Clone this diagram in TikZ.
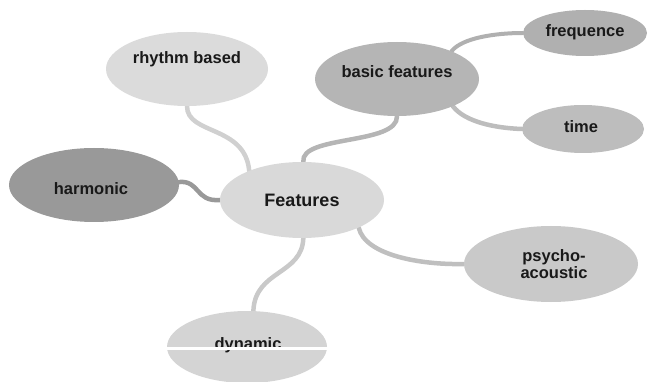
\documentclass[tikz,border=0pt]{standalone}
\usepackage{fontspec}
\setmainfont{Liberation Sans}
\usetikzlibrary{shapes.geometric,backgrounds}
\definecolor{cFeat}{gray}{0.85}
\definecolor{cRhy}{gray}{0.86}
\definecolor{cHar}{gray}{0.60}
\definecolor{cBas}{gray}{0.71}
\definecolor{cFre}{gray}{0.69}
\definecolor{cTim}{gray}{0.74}
\definecolor{cPsy}{gray}{0.79}
\definecolor{cDyn}{gray}{0.83}
\tikzset{
  blob/.style={ellipse, inner sep=0pt},
  lbl/.style={font=\bfseries\fontsize{16.5}{17}\selectfont, align=center, inner sep=0pt, text=black!90},
  link/.style={line width=4.5pt, line cap=round}
}
\begin{document}
\begin{tikzpicture}[x=1pt,y=-1pt]
\useasboundingbox (0,0) rectangle (648,382);
% ellipses
\node[blob, fill=cFeat, minimum width=164pt, minimum height=76pt] (feat) at (302,200) {};
\node[blob, fill=cRhy,  minimum width=162pt, minimum height=74pt] (rb)   at (187,69) {};
\node[blob, fill=cHar,  minimum width=170pt, minimum height=74pt] (har)  at (94,185) {};
\node[blob, fill=cBas,  minimum width=164pt, minimum height=74pt] (bas)  at (397,79) {};
\node[blob, fill=cFre,  minimum width=124pt, minimum height=46pt] (fre)  at (585,33) {};
\node[blob, fill=cTim,  minimum width=122pt, minimum height=48pt] (tim)  at (583,129) {};
\node[blob, fill=cPsy,  minimum width=174pt, minimum height=76pt] (psy)  at (551,264) {};
\node[blob, fill=cDyn,  minimum width=160pt, minimum height=72pt] (dyn)  at (247,347) {};
% labels
\node[lbl, font=\bfseries\fontsize{18}{18}\selectfont] (featT) at (302,200) {Features};
\node[lbl] (rbT)  at (187,59) {rhythm based};
\node[lbl] (harT) at (91,189) {harmonic};
\node[lbl] (basT) at (397,72) {basic features};
\node[lbl] (freT) at (585,32) {frequence};
\node[lbl] (timT) at (581,127) {time};
\node[lbl] (psyT) at (554,264) {psycho-\\acoustic};
\node[lbl] (dynT) at (248,345) {dynamic};
% white scan band through "dynamic"
\fill[white] (167,346.5) rectangle (329,349.5);
% connectors
\begin{pgfonlayer}{background}
\draw[link, cRhy!95!black] (rb.-90) .. controls (187,135) and (245,125) .. (feat.151);
\draw[link, cBas] (bas.-90) .. controls (398,145) and (300,135) .. (feat.88);
\draw[link, cHar] (har.2) .. controls (200,180) and (195,202) .. (feat.180);
\draw[link, cPsy!95!black] (feat.-26) .. controls (365,255) and (420,265) .. (psy.180);
\draw[link, cDyn!95!black] (feat.-88) .. controls (302,275) and (255,270) .. (dyn.80);
\draw[link, line width=4pt, cFre] (bas.27) .. controls (462,38) and (495,33) .. (fre.180);
\draw[link, cTim] (bas.-26) .. controls (465,122) and (495,128) .. (tim.180);
\end{pgfonlayer}
\end{tikzpicture}
\end{document}
